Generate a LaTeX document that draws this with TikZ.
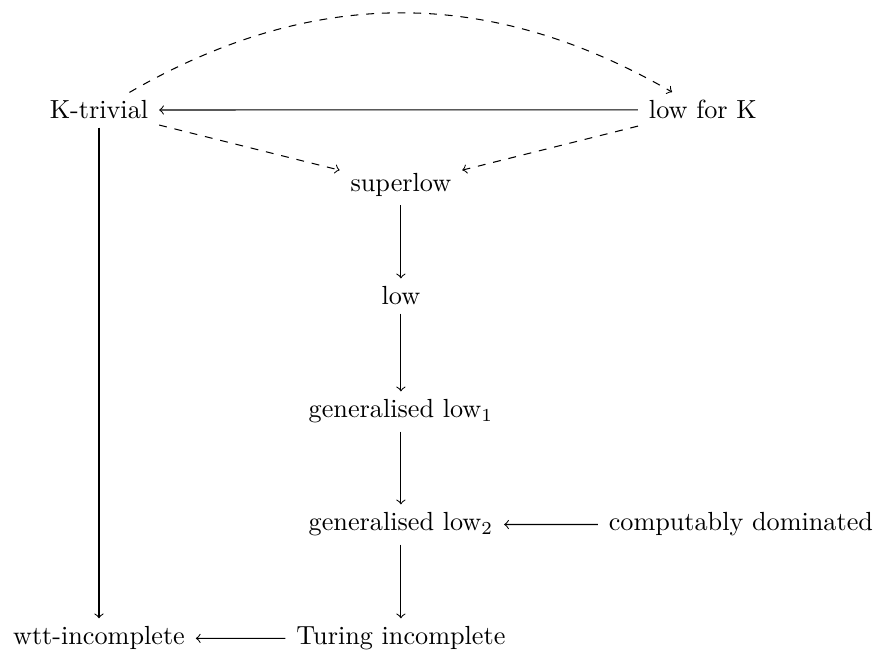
\documentclass[tikz,border=0pt]{standalone}
\usepackage{amsmath}
\usetikzlibrary{arrows,positioning}

\begin{document}
\begin{tikzpicture}
	[notion/.style	= {anchor=base, inner xsep=4pt, inner ysep=3pt},
	implies/.style	= {->, >=to},
	weakimp/.style	= {->, >=to, dashed}]

	\useasboundingbox (0, 0) rectangle (11.78, 8.746);

	\node at (1.328, 7.150)	[notion]	(ktriv)	{K-trivial};
	\node at (9.430, 7.150)	[notion]	(lowk)	{low for K};

	\node at (5.379, 6.170)	[notion]	(slow)	{superlow};
	\node at (5.379, 4.655)	[notion]	(low)	{low};
	\node at (5.379, 3.139)	[notion]	(glowa)	{generalised low$_1$};
	\node at (5.379, 1.623)	[notion]	(glowb)	{generalised low$_2$};
	\node at (9.940, 1.623)	[notion]	(cdom)	{computably dominated};

	\node at (1.328, 0.094)	[notion]	(wtt)	{wtt-incomplete};
	\node at (5.379, 0.094)	[notion]	(turing)	{Turing incomplete};

	\draw [implies] (lowk) -- (ktriv);
	\draw [weakimp] (ktriv) to[bend left=30] (lowk);
	\draw [weakimp] (ktriv) -- (slow);
	\draw [weakimp] (lowk) -- (slow);

	\draw [implies] (slow) -- (low);
	\draw [implies] (low) -- (glowa);
	\draw [implies] (glowa) -- (glowb);
	\draw [implies] (glowb) -- (turing);
	\draw [implies] (cdom) -- (glowb);

	\draw [implies] (ktriv) -- (wtt);
	\draw [implies] (turing) -- (wtt);
\end{tikzpicture}
\end{document}
